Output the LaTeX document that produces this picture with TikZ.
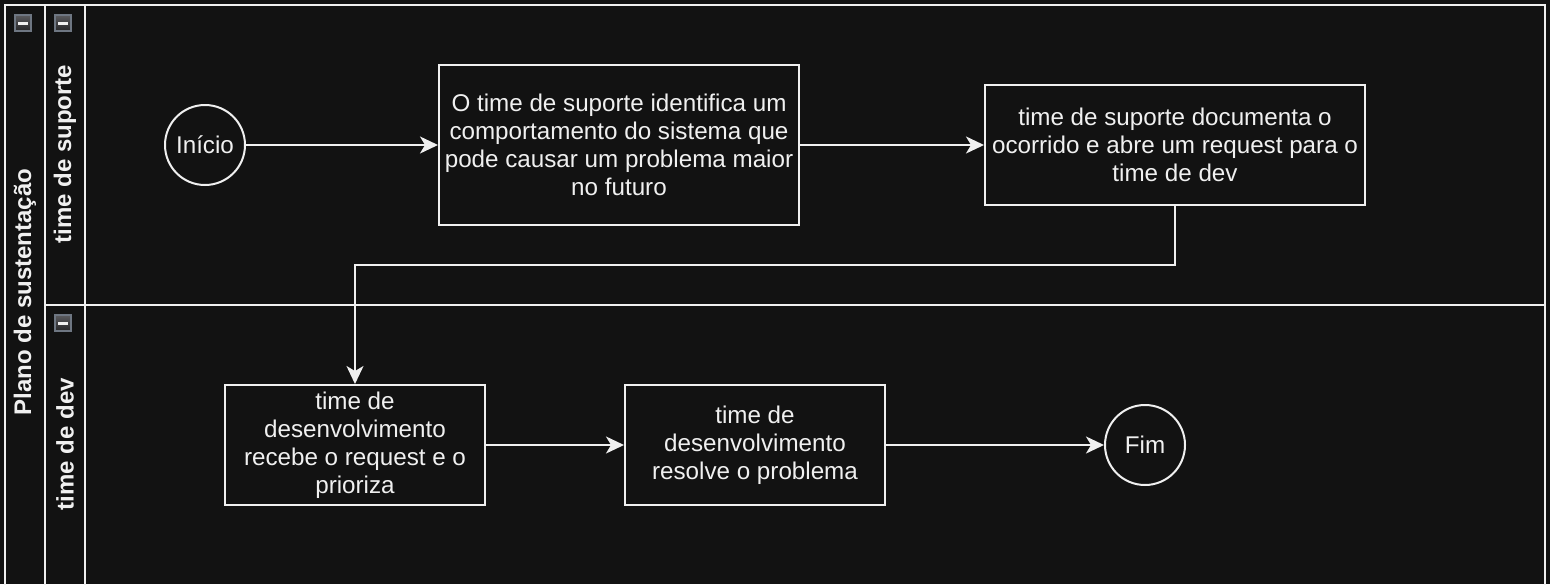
\documentclass[tikz,border=0pt]{standalone}
\usepackage{fontspec}
\setmainfont{Liberation Sans}
\usetikzlibrary{arrows.meta,calc}
\definecolor{bg}{HTML}{121212}
\definecolor{fg}{HTML}{F0F0F0}
\definecolor{iconborder}{HTML}{6E7682}
\definecolor{icontop}{HTML}{5A5A5E}
\definecolor{iconbot}{HTML}{262628}
\tikzset{
  txt/.style={font=\fontsize{24.2}{28}\selectfont, text=fg, align=center},
  taskbox/.style={txt, draw=fg, line width=2pt, fill=bg, inner sep=0pt},
  eventc/.style={txt, circle, draw=fg, line width=2pt, fill=bg, minimum size=80pt, inner sep=0pt},
  arr/.style={draw=fg, line width=2pt, -{Stealth[length=18pt,width=17pt,inset=5pt]}},
  frame/.style={draw=fg, line width=2.2pt},
  lanelbl/.style={font=\fontsize{24}{28}\selectfont\bfseries, text=fg, rotate=90}
}
\newcommand{\minusicon}[2]{%
  \shade[top color=icontop, bottom color=iconbot, draw=iconborder, line width=2pt] (#1-8,#2-8) rectangle (#1+8,#2+8);
  \fill[fg] (#1-5,#2-1.5) rectangle (#1+5,#2+1.5);
}
\begin{document}
\begin{tikzpicture}[x=1pt,y=-1pt]
\useasboundingbox (0,0) rectangle (1550,584);
\clip (0,0) rectangle (1550,584);
\fill[bg] (0,0) rectangle (1550,584);
% pool and lanes
\draw[frame] (5,5) rectangle (1545,600);
\draw[frame] (45,5) -- (45,600);
\draw[frame] (85,5) -- (85,600);
\draw[frame] (45,305) -- (1545,305);
% labels
\node[lanelbl] (pool) at (25,292) {Plano de sustentação};
\node[lanelbl] (lane1) at (65,154) {time de suporte};
\node[lanelbl] (lane2) at (65,444) {time de dev};
% icons
\minusicon{23}{23}
\minusicon{63}{23}
\minusicon{63}{323}
% nodes
\node[eventc] (ini) at (205,145) {Início};
\node[taskbox, minimum width=360pt, minimum height=160pt] (b1) at (619,145)
  {O time de suporte identifica um\\comportamento do sistema que\\pode causar um problema maior\\no futuro};
\node[taskbox, minimum width=380pt, minimum height=120pt] (b2) at (1175,145)
  {time de suporte documenta o\\ocorrido e abre um request para o\\time de dev};
\node[taskbox, minimum width=260pt, minimum height=120pt] (b3) at (355,445)
  {time de\\desenvolvimento\\recebe o request e o\\prioriza};
\node[taskbox, minimum width=260pt, minimum height=120pt] (b4) at (755,445)
  {time de\\desenvolvimento\\resolve o problema};
\node[eventc] (fim) at (1145,445) {Fim};
\coordinate (bend) at (1175,265);
% connectors
\draw[arr] (ini) -- (b1);
\draw[arr] (b1) -- (b2);
\draw[arr] (b2.south) -- (bend) -| (b3.north);
\draw[arr] (b3) -- (b4);
\draw[arr] (b4) -- (fim);
\end{tikzpicture}
\end{document}
